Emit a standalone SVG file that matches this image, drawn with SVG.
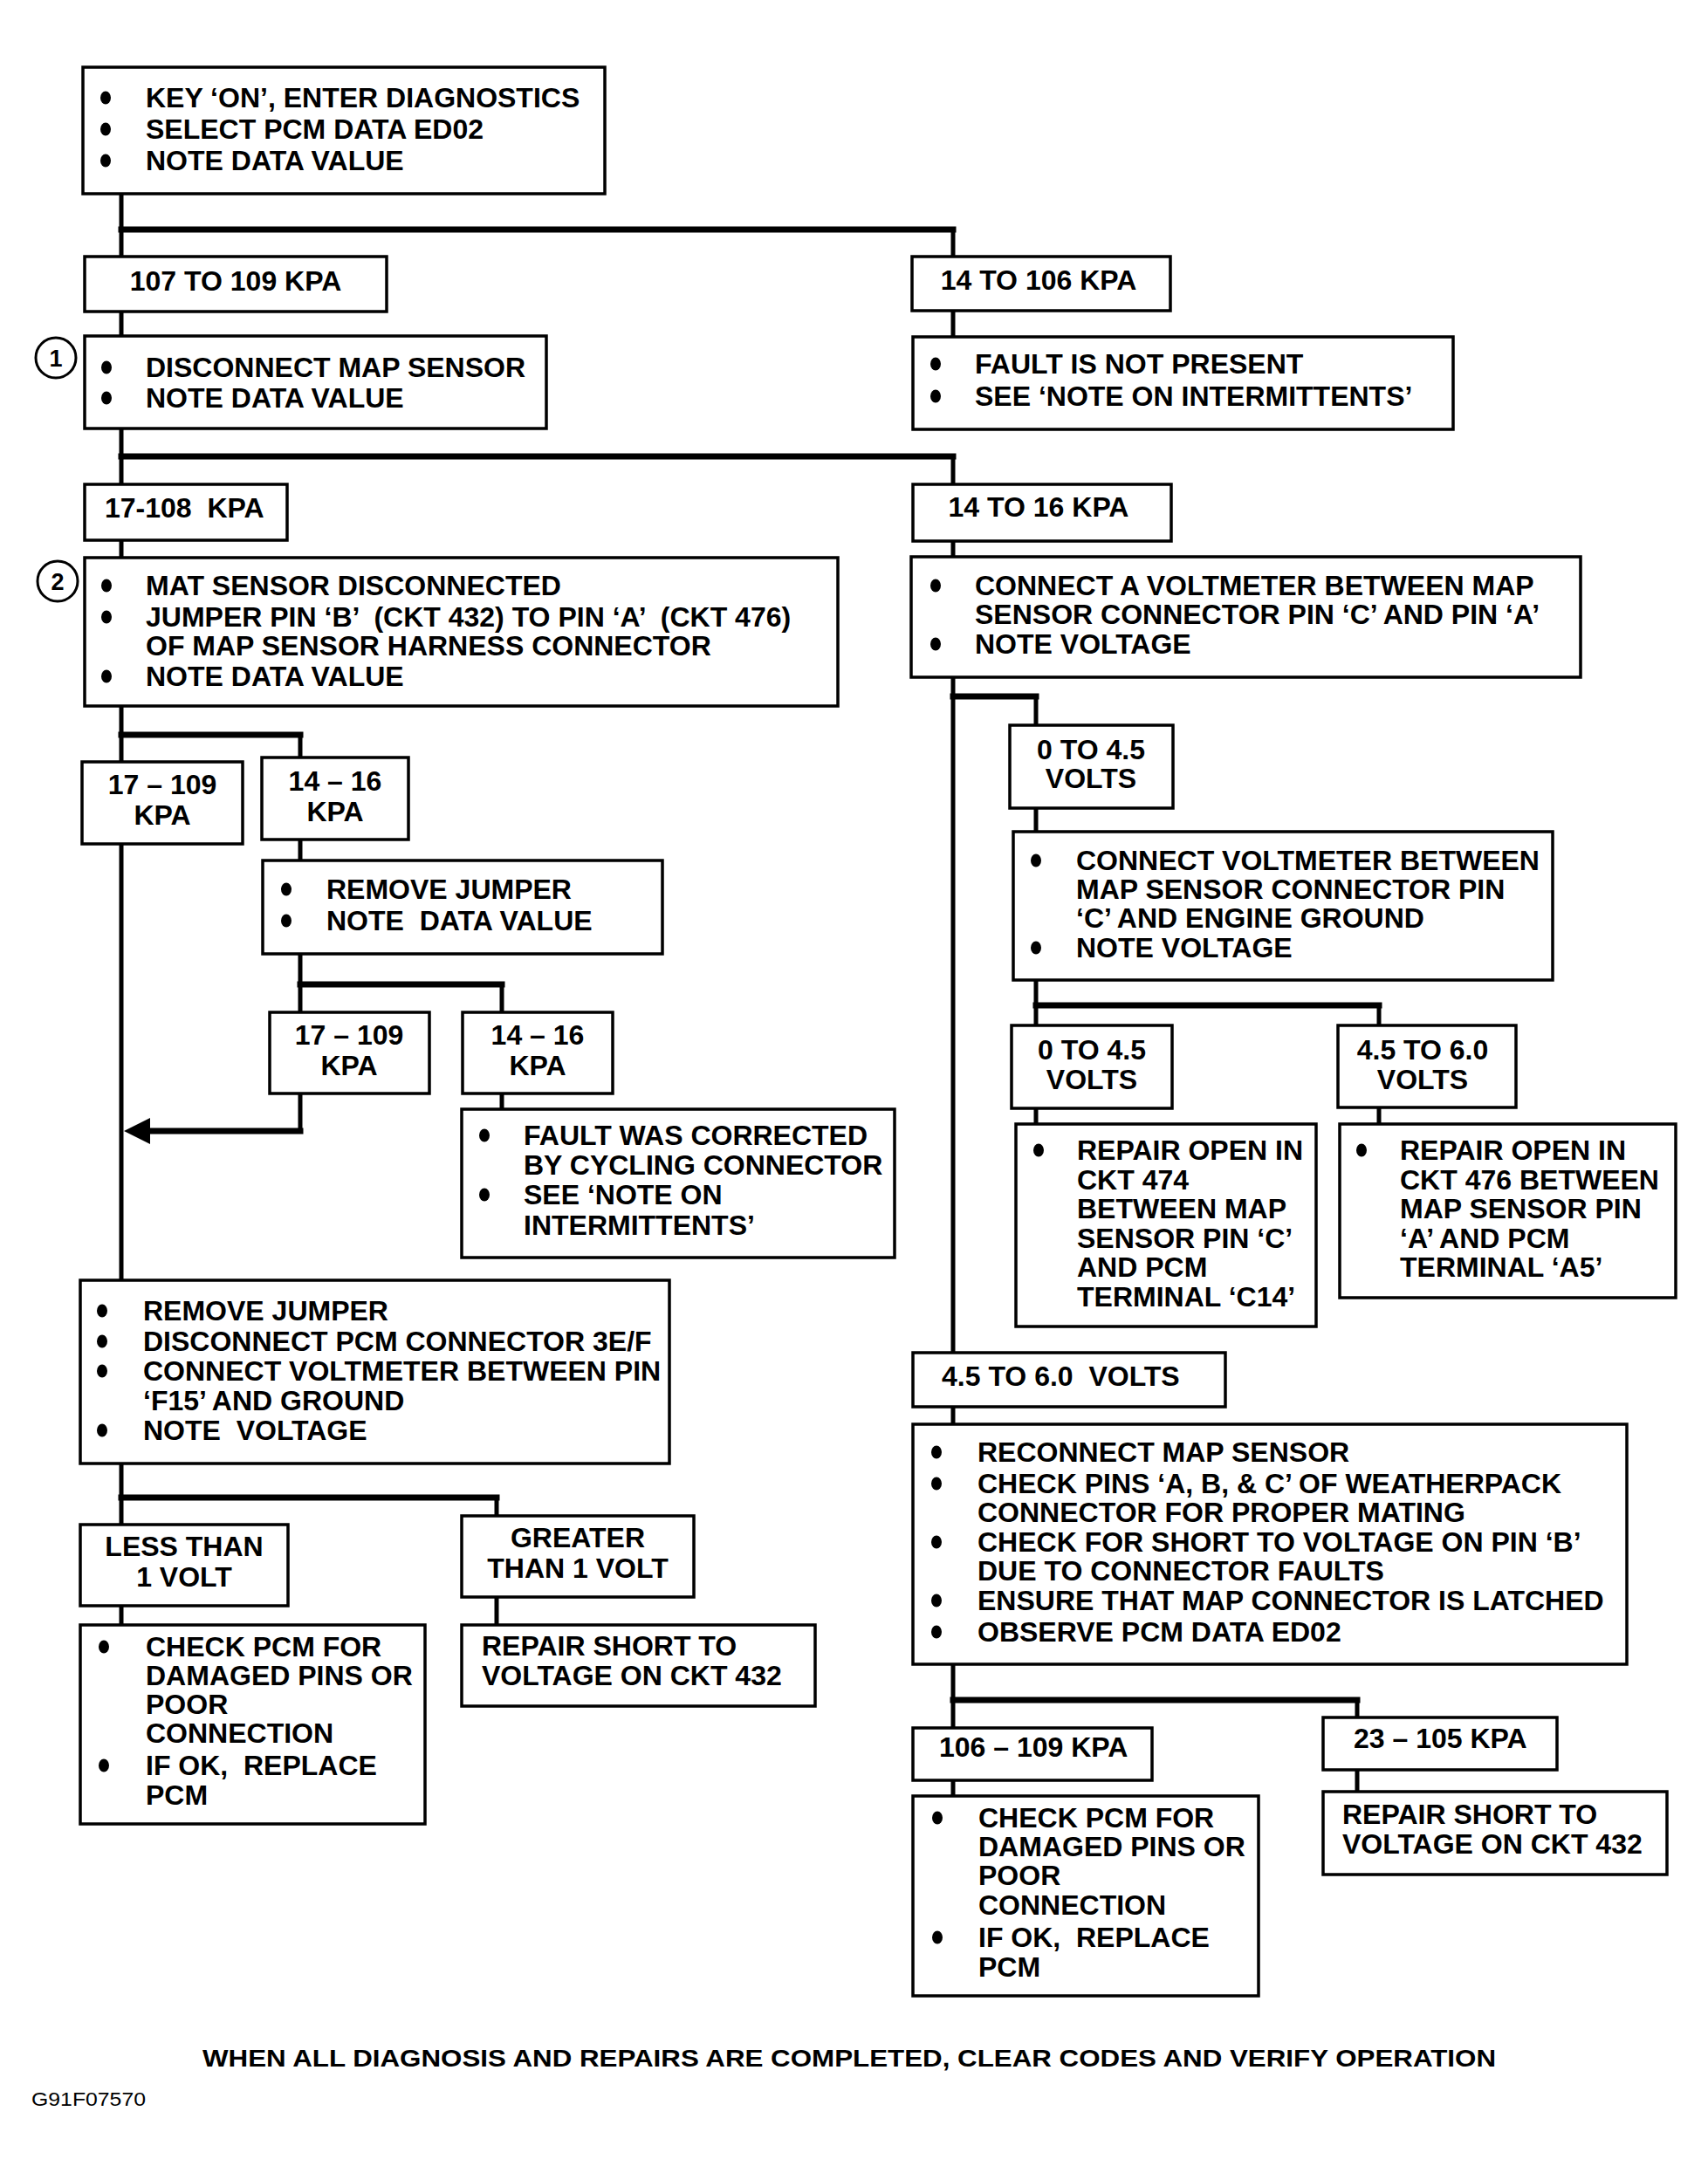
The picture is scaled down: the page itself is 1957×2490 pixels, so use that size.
<svg xmlns="http://www.w3.org/2000/svg" xmlns:xlink="http://www.w3.org/1999/xlink" width="1957" height="2490" viewBox="0 0 1957 2490">
<style>
.box{fill:#fff;stroke:#000;stroke-width:3.5}
.t{font-family:"Liberation Sans",Arial,Helvetica,sans-serif;font-weight:bold;font-size:32px;fill:#000}
.c{text-anchor:middle}
.v{stroke:#000;stroke-width:5;fill:none;stroke-linecap:square}
.h{stroke:#000;stroke-width:7;fill:none;stroke-linecap:square}
.num{fill:#fff;stroke:#000;stroke-width:3}
.foot{font-family:"Liberation Sans",Arial,Helvetica,sans-serif;font-weight:bold;font-size:28px;fill:#000}
.code{font-family:"Liberation Sans",Arial,Helvetica,sans-serif;font-size:22px;fill:#000}
</style>
<defs>
<ellipse id="b" rx="6" ry="7.5" fill="#000"/>
</defs>
<rect width="1957" height="2490" fill="#fff"/>

<g id="connectors">
<path class="v" d="M139 222V294M139 357V385M139 491V555M139 619V639M139 809V1467M139 1677V1747M139 1840V1862"/>
<path class="h" d="M139 263H1092M139 523H1092M139 842H344M344 1128H575M139 1716H569"/>
<path class="v" d="M1092 263V294M1092 356V386M1092 523V555M1092 620V638M1092 776V1550M1092 1612V1632M1092 1907V1980M1092 2040V2058"/>
<path class="v" d="M344 842V868M344 962V986M344 1093V1160M575 1128V1160M344 1253V1296M575 1253V1271M569 1716V1737M569 1830V1862"/>
<path class="h" d="M344 1296H168"/>
<polygon points="142,1296 172,1281 172,1311" fill="#000"/>
<path class="h" d="M1092 798H1187M1187 1152H1580M1092 1948H1555"/>
<path class="v" d="M1187 798V831M1187 926V953M1187 1123V1175M1580 1152V1175M1187 1270V1288M1580 1269V1288M1555 1948V1968M1555 2028V2053"/>
</g>

<g id="n-start">
<rect class="box" x="95" y="77" width="598" height="145"/>
<use href="#b" x="121" y="112"/><use href="#b" x="121" y="148"/><use href="#b" x="121" y="184"/>
<text class="t" x="167" y="123">KEY ‘ON’, ENTER DIAGNOSTICS</text>
<text class="t" x="167" y="159">SELECT PCM DATA ED02</text>
<text class="t" x="167" y="195">NOTE DATA VALUE</text>
</g>

<g id="n-107-109">
<rect class="box" x="97" y="294" width="346" height="63"/>
<text class="t c" x="270" y="333">107 TO 109 KPA</text>
</g>

<g id="n-14-106">
<rect class="box" x="1045" y="294" width="296" height="62"/>
<text class="t c" x="1190" y="332">14 TO 106 KPA</text>
</g>

<g id="step1">
<circle class="num" cx="64" cy="410" r="23"/>
<text class="t c" x="64" y="420" style="font-size:27px">1</text>
</g>

<g id="n-disconnect">
<rect class="box" x="97" y="385" width="529" height="106"/>
<use href="#b" x="122" y="421"/><use href="#b" x="122" y="456"/>
<text class="t" x="167" y="432">DISCONNECT MAP SENSOR</text>
<text class="t" x="167" y="467">NOTE DATA VALUE</text>
</g>

<g id="n-fault-not-present">
<rect class="box" x="1046" y="386" width="619" height="106"/>
<use href="#b" x="1072" y="417"/><use href="#b" x="1072" y="454"/>
<text class="t" x="1117" y="428">FAULT IS NOT PRESENT</text>
<text class="t" x="1117" y="465">SEE ‘NOTE ON INTERMITTENTS’</text>
</g>

<g id="n-17-108">
<rect class="box" x="97" y="555" width="232" height="64"/>
<text class="t" x="120" y="593" xml:space="preserve">17-108  KPA</text>
</g>

<g id="n-14-16-top">
<rect class="box" x="1046" y="555" width="296" height="65"/>
<text class="t c" x="1190" y="592">14 TO 16 KPA</text>
</g>

<g id="step2">
<circle class="num" cx="66" cy="666" r="23"/>
<text class="t c" x="66" y="676" style="font-size:27px">2</text>
</g>

<g id="n-mat">
<rect class="box" x="97" y="639" width="863" height="170"/>
<use href="#b" x="122" y="671"/><use href="#b" x="122" y="707"/><use href="#b" x="122" y="775"/>
<text class="t" x="167" y="682">MAT SENSOR DISCONNECTED</text>
<text class="t" x="167" y="718" xml:space="preserve">JUMPER PIN ‘B’  (CKT 432) TO PIN ‘A’  (CKT 476)</text>
<text class="t" x="167" y="751">OF MAP SENSOR HARNESS CONNECTOR</text>
<text class="t" x="167" y="786">NOTE DATA VALUE</text>
</g>

<g id="n-connect-a-voltmeter">
<rect class="box" x="1044" y="638" width="767" height="138"/>
<use href="#b" x="1072" y="671"/><use href="#b" x="1072" y="738"/>
<text class="t" x="1117" y="682">CONNECT A VOLTMETER BETWEEN MAP</text>
<text class="t" x="1117" y="715">SENSOR CONNECTOR PIN ‘C’ AND PIN ‘A’</text>
<text class="t" x="1117" y="749">NOTE VOLTAGE</text>
</g>

<g id="n-17-109-a">
<rect class="box" x="94" y="873" width="184" height="94"/>
<text class="t c" x="186" y="910">17 – 109</text>
<text class="t c" x="186" y="945">KPA</text>
</g>

<g id="n-14-16-a">
<rect class="box" x="300" y="868" width="168" height="94"/>
<text class="t c" x="384" y="906">14 – 16</text>
<text class="t c" x="384" y="941">KPA</text>
</g>

<g id="n-remove-jumper-a">
<rect class="box" x="301" y="986" width="458" height="107"/>
<use href="#b" x="328" y="1019"/><use href="#b" x="328" y="1055"/>
<text class="t" x="374" y="1030">REMOVE JUMPER</text>
<text class="t" x="374" y="1066" xml:space="preserve">NOTE  DATA VALUE</text>
</g>

<g id="n-17-109-b">
<rect class="box" x="309" y="1160" width="183" height="93"/>
<text class="t c" x="400" y="1197">17 – 109</text>
<text class="t c" x="400" y="1232">KPA</text>
</g>

<g id="n-14-16-b">
<rect class="box" x="530" y="1160" width="172" height="93"/>
<text class="t c" x="616" y="1197">14 – 16</text>
<text class="t c" x="616" y="1232">KPA</text>
</g>

<g id="n-fault-corrected">
<rect class="box" x="529" y="1271" width="496" height="170"/>
<use href="#b" x="555" y="1301"/><use href="#b" x="555" y="1369"/>
<text class="t" x="600" y="1312">FAULT WAS CORRECTED</text>
<text class="t" x="600" y="1346">BY CYCLING CONNECTOR</text>
<text class="t" x="600" y="1380">SEE ‘NOTE ON</text>
<text class="t" x="600" y="1415">INTERMITTENTS’</text>
</g>

<g id="n-remove-jumper-b">
<rect class="box" x="92" y="1467" width="675" height="210"/>
<use href="#b" x="117" y="1502"/><use href="#b" x="117" y="1537"/><use href="#b" x="117" y="1571"/><use href="#b" x="117" y="1639"/>
<text class="t" x="164" y="1513">REMOVE JUMPER</text>
<text class="t" x="164" y="1548">DISCONNECT PCM CONNECTOR 3E/F</text>
<text class="t" x="164" y="1582">CONNECT VOLTMETER BETWEEN PIN</text>
<text class="t" x="164" y="1616">‘F15’ AND GROUND</text>
<text class="t" x="164" y="1650" xml:space="preserve">NOTE  VOLTAGE</text>
</g>

<g id="n-less-than">
<rect class="box" x="92" y="1747" width="238" height="93"/>
<text class="t c" x="211" y="1783">LESS THAN</text>
<text class="t c" x="211" y="1818">1 VOLT</text>
</g>

<g id="n-greater-than">
<rect class="box" x="529" y="1737" width="266" height="93"/>
<text class="t c" x="662" y="1773">GREATER</text>
<text class="t c" x="662" y="1808">THAN 1 VOLT</text>
</g>

<g id="n-check-pcm-a">
<rect class="box" x="92" y="1862" width="395" height="228"/>
<use href="#b" x="119" y="1887"/><use href="#b" x="119" y="2023"/>
<text class="t" x="167" y="1898">CHECK PCM FOR</text>
<text class="t" x="167" y="1931">DAMAGED PINS OR</text>
<text class="t" x="167" y="1964">POOR</text>
<text class="t" x="167" y="1997">CONNECTION</text>
<text class="t" x="167" y="2034" xml:space="preserve">IF OK,  REPLACE</text>
<text class="t" x="167" y="2068">PCM</text>
</g>

<g id="n-repair-short-a">
<rect class="box" x="529" y="1862" width="405" height="93"/>
<text class="t" x="552" y="1897">REPAIR SHORT TO</text>
<text class="t" x="552" y="1931">VOLTAGE ON CKT 432</text>
</g>

<g id="n-0-4-5-a">
<rect class="box" x="1157" y="831" width="187" height="95"/>
<text class="t c" x="1250" y="870">0 TO 4.5</text>
<text class="t c" x="1250" y="903">VOLTS</text>
</g>

<g id="n-connect-voltmeter">
<rect class="box" x="1161" y="953" width="618" height="170"/>
<use href="#b" x="1187" y="986"/><use href="#b" x="1187" y="1086"/>
<text class="t" x="1233" y="997">CONNECT VOLTMETER BETWEEN</text>
<text class="t" x="1233" y="1030">MAP SENSOR CONNECTOR PIN</text>
<text class="t" x="1233" y="1063">‘C’ AND ENGINE GROUND</text>
<text class="t" x="1233" y="1097">NOTE VOLTAGE</text>
</g>

<g id="n-0-4-5-b">
<rect class="box" x="1159" y="1175" width="184" height="95"/>
<text class="t c" x="1251" y="1214">0 TO 4.5</text>
<text class="t c" x="1251" y="1248">VOLTS</text>
</g>

<g id="n-4-5-6-a">
<rect class="box" x="1533" y="1175" width="204" height="94"/>
<text class="t c" x="1630" y="1214">4.5 TO 6.0</text>
<text class="t c" x="1630" y="1248">VOLTS</text>
</g>

<g id="n-repair-open-474">
<rect class="box" x="1164" y="1288" width="344" height="232"/>
<use href="#b" x="1190" y="1318"/>
<text class="t" x="1234" y="1329">REPAIR OPEN IN</text>
<text class="t" x="1234" y="1363">CKT 474</text>
<text class="t" x="1234" y="1396">BETWEEN MAP</text>
<text class="t" x="1234" y="1430">SENSOR PIN ‘C’</text>
<text class="t" x="1234" y="1463">AND PCM</text>
<text class="t" x="1234" y="1497">TERMINAL ‘C14’</text>
</g>

<g id="n-repair-open-476">
<rect class="box" x="1535" y="1288" width="385" height="199"/>
<use href="#b" x="1560" y="1318"/>
<text class="t" x="1604" y="1329">REPAIR OPEN IN</text>
<text class="t" x="1604" y="1363">CKT 476 BETWEEN</text>
<text class="t" x="1604" y="1396">MAP SENSOR PIN</text>
<text class="t" x="1604" y="1430">‘A’ AND PCM</text>
<text class="t" x="1604" y="1463">TERMINAL ‘A5’</text>
</g>

<g id="n-4-5-6-b">
<rect class="box" x="1046" y="1550" width="358" height="62"/>
<text class="t" x="1079" y="1588" xml:space="preserve">4.5 TO 6.0  VOLTS</text>
</g>

<g id="n-reconnect">
<rect class="box" x="1046" y="1632" width="818" height="275"/>
<use href="#b" x="1073" y="1664"/><use href="#b" x="1073" y="1700"/><use href="#b" x="1073" y="1767"/><use href="#b" x="1073" y="1834"/><use href="#b" x="1073" y="1870"/>
<text class="t" x="1120" y="1675">RECONNECT MAP SENSOR</text>
<text class="t" x="1120" y="1711">CHECK PINS ‘A, B, &amp; C’ OF WEATHERPACK</text>
<text class="t" x="1120" y="1744">CONNECTOR FOR PROPER MATING</text>
<text class="t" x="1120" y="1778">CHECK FOR SHORT TO VOLTAGE ON PIN ‘B’</text>
<text class="t" x="1120" y="1811">DUE TO CONNECTOR FAULTS</text>
<text class="t" x="1120" y="1845">ENSURE THAT MAP CONNECTOR IS LATCHED</text>
<text class="t" x="1120" y="1881">OBSERVE PCM DATA ED02</text>
</g>

<g id="n-106-109">
<rect class="box" x="1046" y="1980" width="274" height="60"/>
<text class="t" x="1076" y="2013">106 – 109 KPA</text>
</g>

<g id="n-23-105">
<rect class="box" x="1516" y="1968" width="268" height="60"/>
<text class="t" x="1551" y="2003">23 – 105 KPA</text>
</g>

<g id="n-check-pcm-b">
<rect class="box" x="1046" y="2058" width="396" height="229"/>
<use href="#b" x="1074" y="2083"/><use href="#b" x="1074" y="2220"/>
<text class="t" x="1121" y="2094">CHECK PCM FOR</text>
<text class="t" x="1121" y="2127">DAMAGED PINS OR</text>
<text class="t" x="1121" y="2160">POOR</text>
<text class="t" x="1121" y="2194">CONNECTION</text>
<text class="t" x="1121" y="2231" xml:space="preserve">IF OK,  REPLACE</text>
<text class="t" x="1121" y="2265">PCM</text>
</g>

<g id="n-repair-short-b">
<rect class="box" x="1516" y="2053" width="394" height="95"/>
<text class="t" x="1538" y="2090">REPAIR SHORT TO</text>
<text class="t" x="1538" y="2124">VOLTAGE ON CKT 432</text>
</g>

<g id="footer">
<text class="foot" x="232" y="2368" textLength="1482" lengthAdjust="spacingAndGlyphs">WHEN ALL DIAGNOSIS AND REPAIRS ARE COMPLETED, CLEAR CODES AND VERIFY OPERATION</text>
<text class="code" x="36" y="2413" textLength="131" lengthAdjust="spacingAndGlyphs">G91F07570</text>
</g>
</svg>
